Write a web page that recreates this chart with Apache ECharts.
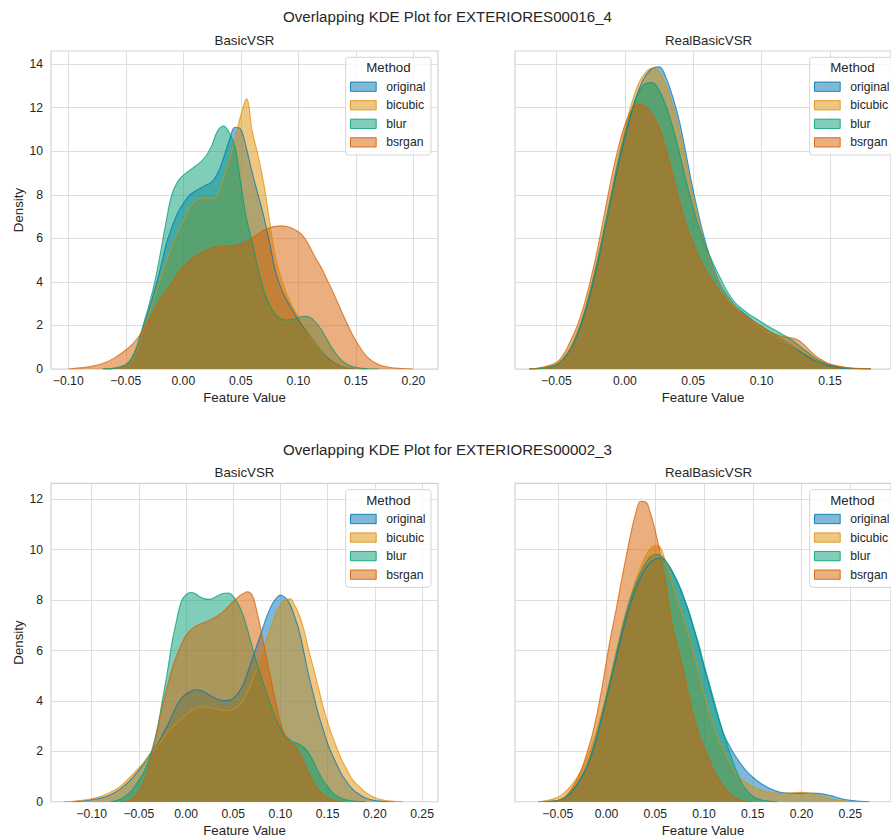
<!DOCTYPE html>
<html>
<head>
<meta charset="utf-8">
<title>Overlapping KDE Plots</title>
<script src="https://cdn.jsdelivr.net/npm/echarts@6/dist/echarts.min.js"></script>
<style>
  html, body { margin: 0; padding: 0; background: #ffffff; }
  #chart { width: 891px; height: 840px; }
</style>
</head>
<body>
<div id="chart"></div>
<script>
// ---- series names and palette ----
const methods = ['original', 'bicubic', 'blur', 'bsrgan'];
const methodRgb = [[1, 115, 178], [222, 143, 5], [2, 158, 115], [213, 94, 0]];

// ---- figure / panel titles ----
const figureTitles = ['Overlapping KDE Plot for EXTERIORES00016_4', 'Overlapping KDE Plot for EXTERIORES00002_3'];
const panelTitles = ['BasicVSR', 'RealBasicVSR', 'BasicVSR', 'RealBasicVSR'];

// ---- tick labels ----
const xTicksA = [-0.10, -0.05, 0.00, 0.05, 0.10, 0.15, 0.20];
const xTicksB = [-0.05, 0.00, 0.05, 0.10, 0.15];
const xTicksC = [-0.10, -0.05, 0.00, 0.05, 0.10, 0.15, 0.20, 0.25];
const xTicksD = [-0.05, 0.00, 0.05, 0.10, 0.15, 0.20, 0.25];
const yTicksTop = [0, 2, 4, 6, 8, 10, 12, 14];
const yTicksBottom = [0, 2, 4, 6, 8, 10, 12];

// ---- EXTERIORES00016_4 / BasicVSR : density curves ----
const xA = [-0.11, -0.10, -0.09, -0.08, -0.07, -0.06, -0.05, -0.045, -0.04, -0.035, -0.03, -0.025, -0.02, -0.015, -0.01, -0.005,
  0, 0.005, 0.01, 0.015, 0.02, 0.025, 0.03, 0.035, 0.04, 0.045, 0.05, 0.055, 0.06, 0.065, 0.07, 0.075, 0.08, 0.085, 0.09, 0.095,
  0.10, 0.105, 0.11, 0.115, 0.12, 0.125, 0.13, 0.135, 0.14, 0.145, 0.15, 0.16, 0.17, 0.18, 0.19, 0.20, 0.21];
const originalA = [null, null, null, null, 0.0, 0.03, 0.2, 0.45, 0.95, 1.85, 2.7, 3.6, 4.6, 5.7, 6.5, 7.15,
  7.6, 7.95, 8.15, 8.3, 8.45, 8.6, 9.0, 9.7, 10.5, 11.1, 11.0, 10.1, 9.0, 8.0, 7.0, 5.8, 4.5, 3.7, 3.15, 2.7,
  2.25, 1.9, 1.55, 1.18, 0.85, 0.56, 0.34, 0.2, 0.1, 0.05, 0.02, 0.0, null, null, null, null, null];
const bicubicA = [null, null, null, null, 0.0, 0.03, 0.18, 0.4, 0.9, 1.75, 2.5, 3.3, 4.1, 4.9, 5.6, 6.25,
  6.8, 7.35, 7.7, 7.82, 7.83, 7.8, 8.0, 8.75, 9.6, 10.55, 11.65, 12.4, 10.9, 9.8, 8.5, 6.8, 5.2, 4.2, 3.45, 2.85,
  2.4, 1.95, 1.55, 1.15, 0.85, 0.6, 0.38, 0.22, 0.12, 0.06, 0.03, 0.0, null, null, null, null, null];
const blurA = [null, null, null, null, 0.0, 0.03, 0.2, 0.5, 1.1, 2.0, 2.9, 3.95, 5.3, 6.75, 8.0, 8.6,
  8.9, 9.1, 9.3, 9.5, 9.8, 10.3, 10.95, 11.15, 10.85, 10.2, 8.5, 6.9, 5.8, 4.6, 3.6, 2.95, 2.5, 2.3, 2.25, 2.28,
  2.35, 2.42, 2.38, 2.15, 1.8, 1.35, 0.9, 0.55, 0.3, 0.15, 0.07, 0.01, 0.0, null, null, null, null];
const bsrganA = [null, 0.0, 0.05, 0.12, 0.25, 0.5, 0.87, 1.1, 1.4, 1.8, 2.25, 2.75, 3.2, 3.6, 3.95, 4.35,
  4.7, 4.95, 5.15, 5.3, 5.45, 5.56, 5.62, 5.64, 5.64, 5.68, 5.75, 5.85, 6.02, 6.2, 6.38, 6.48, 6.55, 6.57, 6.54, 6.45,
  6.3, 6.05, 5.6, 5.1, 4.65, 4.1, 3.55, 2.95, 2.35, 1.8, 1.3, 0.55, 0.2, 0.07, 0.02, 0.0, null];

// ---- EXTERIORES00016_4 / RealBasicVSR ----
const xB = [-0.07, -0.06, -0.05, -0.045, -0.04, -0.035, -0.03, -0.025, -0.02, -0.015, -0.01, -0.005,
  0, 0.005, 0.01, 0.015, 0.02, 0.025, 0.03, 0.035, 0.04, 0.045, 0.05, 0.055, 0.06, 0.065, 0.07, 0.075, 0.08, 0.085, 0.09, 0.095,
  0.10, 0.105, 0.11, 0.115, 0.12, 0.125, 0.13, 0.135, 0.14, 0.145, 0.15, 0.16, 0.17, 0.18];
const originalB = [0.0, 0.04, 0.2, 0.45, 0.9, 1.55, 2.4, 3.5, 4.8, 6.3, 7.8, 9.3,
  10.6, 11.8, 12.8, 13.45, 13.8, 13.88, 13.4, 12.5, 11.35, 9.8, 8.2, 6.8, 5.6, 4.6, 3.85, 3.35, 2.95, 2.65, 2.4, 2.15,
  1.95, 1.75, 1.55, 1.35, 1.15, 0.95, 0.72, 0.52, 0.35, 0.22, 0.13, 0.04, 0.01, 0.0];
const bicubicB = [0.0, 0.05, 0.22, 0.5, 0.95, 1.65, 2.55, 3.7, 5.0, 6.5, 8.0, 9.6,
  11.0, 12.2, 13.1, 13.6, 13.82, 13.65, 13.05, 12.1, 10.9, 9.4, 7.9, 6.55, 5.45, 4.5, 3.8, 3.3, 2.9, 2.6, 2.35, 2.1,
  1.9, 1.7, 1.5, 1.32, 1.15, 0.98, 0.8, 0.62, 0.45, 0.32, 0.22, 0.09, 0.03, 0.01];
const blurB = [0.0, 0.04, 0.2, 0.45, 0.9, 1.6, 2.5, 3.65, 5.0, 6.5, 8.0, 9.5,
  10.8, 11.9, 12.7, 13.1, 13.15, 12.8, 12.1, 11.1, 9.9, 8.6, 7.4, 6.35, 5.5, 4.8, 4.15, 3.55, 3.1, 2.8, 2.55, 2.35,
  2.15, 1.95, 1.78, 1.6, 1.42, 1.2, 0.94, 0.7, 0.47, 0.3, 0.19, 0.05, 0.01, 0.0];
const bsrganB = [0.0, 0.08, 0.3, 0.65, 1.25, 1.95, 2.9, 4.1, 5.5, 7.1, 8.7, 10.1,
  11.2, 11.9, 12.15, 12.05, 11.7, 11.1, 10.1, 8.9, 7.7, 6.6, 5.75, 5.05, 4.45, 3.95, 3.5, 3.1, 2.8, 2.55, 2.35, 2.15,
  1.95, 1.75, 1.6, 1.5, 1.45, 1.38, 1.18, 0.85, 0.58, 0.38, 0.22, 0.08, 0.02, 0.0];

// ---- EXTERIORES00002_3 / BasicVSR ----
const xC = [-0.13, -0.12, -0.11, -0.10, -0.09, -0.08, -0.07, -0.06, -0.05, -0.045, -0.04, -0.035, -0.03, -0.025, -0.02, -0.015, -0.01, -0.005,
  0, 0.005, 0.01, 0.015, 0.02, 0.025, 0.03, 0.035, 0.04, 0.045, 0.05, 0.055, 0.06, 0.065, 0.07, 0.075, 0.08, 0.085, 0.09, 0.095,
  0.10, 0.105, 0.11, 0.115, 0.12, 0.125, 0.13, 0.135, 0.14, 0.145, 0.15, 0.155, 0.16, 0.165, 0.17, 0.175, 0.18,
  0.19, 0.20, 0.21, 0.22, 0.23];
const originalC = [null, 0.0, 0.03, 0.08, 0.15, 0.28, 0.5, 0.82, 1.25, 1.5, 1.8, 2.05, 2.3, 2.65, 3.0, 3.4, 3.8, 4.1,
  4.28, 4.38, 4.44, 4.42, 4.33, 4.22, 4.12, 4.05, 4.01, 4.02, 4.1, 4.3, 4.6, 5.1, 5.65, 6.2, 6.75, 7.3, 7.75, 8.05,
  8.2, 8.1, 7.85, 7.35, 6.75, 5.9, 5.0, 4.25, 3.5, 2.9, 2.3, 1.85, 1.45, 1.07, 0.8, 0.55, 0.38,
  0.15, 0.05, 0.01, 0.0, null];
const bicubicC = [0.0, 0.02, 0.06, 0.12, 0.22, 0.38, 0.6, 0.95, 1.35, 1.55, 1.78, 2.0, 2.25, 2.5, 2.75, 2.95, 3.1, 3.3,
  3.45, 3.6, 3.7, 3.76, 3.77, 3.74, 3.7, 3.66, 3.62, 3.61, 3.66, 3.8, 4.0, 4.35, 4.8, 5.3, 5.85, 6.4, 6.95, 7.45,
  7.8, 8.0, 8.05, 7.8, 7.4, 6.8, 6.0, 5.3, 4.55, 3.8, 3.15, 2.6, 2.1, 1.65, 1.3, 0.95, 0.72,
  0.38, 0.16, 0.06, 0.02, 0.0];
const blurC = [null, null, null, null, null, 0.0, 0.1, 0.35, 0.85, 1.15, 1.6, 2.2, 3.0, 4.05, 5.1, 6.3, 7.2, 7.95,
  8.22, 8.3, 8.25, 8.12, 8.05, 8.03, 8.1, 8.2, 8.27, 8.28, 8.15, 7.85, 7.45, 6.85, 6.15, 5.5, 4.9, 4.35, 3.8, 3.3,
  2.9, 2.62, 2.45, 2.35, 2.28, 2.15, 1.92, 1.6, 1.2, 0.85, 0.6, 0.37, 0.22, 0.13, 0.07, 0.04, 0.02,
  0.0, null, null, null, null];
const bsrganC = [null, null, null, null, null, null, 0.0, 0.05, 0.4, 0.8, 1.3, 2.1, 2.9, 3.8, 4.55, 5.25, 5.8, 6.25,
  6.6, 6.82, 6.95, 7.05, 7.12, 7.2, 7.3, 7.42, 7.57, 7.75, 7.95, 8.12, 8.24, 8.33, 8.2, 7.55, 6.7, 5.75, 4.85, 3.95,
  3.15, 2.62, 2.38, 2.25, 1.95, 1.55, 1.12, 0.75, 0.48, 0.28, 0.15, 0.07, 0.03, 0.01, 0.0, null, null,
  null, null, null, null, null];

// ---- EXTERIORES00002_3 / RealBasicVSR ----
const xD = [-0.08, -0.07, -0.06, -0.05, -0.045, -0.04, -0.035, -0.03, -0.025, -0.02, -0.015, -0.01, -0.005,
  0, 0.005, 0.01, 0.015, 0.02, 0.025, 0.03, 0.035, 0.04, 0.045, 0.05, 0.055, 0.06, 0.065, 0.07, 0.075, 0.08, 0.085, 0.09, 0.095,
  0.10, 0.105, 0.11, 0.115, 0.12, 0.125, 0.13, 0.135, 0.14, 0.145, 0.15, 0.155, 0.16, 0.165, 0.17, 0.175, 0.18,
  0.19, 0.20, 0.21, 0.22, 0.23, 0.24, 0.25, 0.26, 0.27];
const originalD = [null, 0.0, 0.02, 0.05, 0.12, 0.24, 0.42, 0.68, 1.0, 1.4, 1.9, 2.55, 3.3,
  4.1, 4.9, 5.7, 6.5, 7.25, 7.9, 8.45, 8.9, 9.25, 9.5, 9.62, 9.66, 9.55, 9.3, 8.95, 8.55, 8.05, 7.45, 6.8, 6.1,
  5.35, 4.65, 3.95, 3.3, 2.7, 2.3, 1.95, 1.65, 1.38, 1.15, 0.97, 0.82, 0.68, 0.57, 0.48, 0.41, 0.36,
  0.33, 0.33, 0.34, 0.32, 0.24, 0.13, 0.06, 0.02, 0.0];
const bicubicD = [null, 0.0, 0.06, 0.18, 0.3, 0.48, 0.7, 0.98, 1.33, 1.75, 2.25, 2.85, 3.55,
  4.3, 5.1, 5.95, 6.8, 7.55, 8.2, 8.8, 9.3, 9.75, 10.05, 10.17, 10.1, 9.6, 9.0, 8.35, 7.75, 7.15, 6.5, 5.8, 5.05,
  4.3, 3.6, 2.95, 2.45, 2.05, 1.65, 1.28, 1.02, 0.84, 0.7, 0.6, 0.5, 0.43, 0.38, 0.35, 0.33, 0.33,
  0.35, 0.37, 0.33, 0.22, 0.12, 0.05, 0.01, 0.0, null];
const blurD = [null, null, 0.0, 0.05, 0.13, 0.25, 0.45, 0.72, 1.05, 1.45, 2.0, 2.65, 3.4,
  4.2, 5.05, 5.9, 6.7, 7.45, 8.1, 8.65, 9.1, 9.45, 9.72, 9.82, 9.78, 9.6, 9.3, 8.95, 8.5, 8.0, 7.5, 6.85, 6.2,
  5.45, 4.75, 4.05, 3.35, 2.7, 2.1, 1.55, 1.05, 0.65, 0.4, 0.22, 0.12, 0.06, 0.03, 0.01, 0.0, null,
  null, null, null, null, null, null, null, null, null];
const bsrganD = [null, null, 0.0, 0.05, 0.12, 0.3, 0.55, 0.9, 1.35, 1.95, 2.6, 3.45, 4.45,
  5.6, 6.7, 7.65, 8.7, 9.7, 10.65, 11.45, 11.92, 11.9, 11.45, 10.75, 9.85, 8.85, 7.55, 6.55, 5.8, 5.0, 4.1, 3.3, 2.65,
  2.15, 1.7, 1.25, 0.9, 0.6, 0.38, 0.2, 0.1, 0.04, 0.01, 0.0, null, null, null, null, null, null,
  null, null, null, null, null, null, null, null, null];

// ---- layout (pixels) ----
const FONT = '"Liberation Sans", Arial, Helvetica, sans-serif';
const INK = '#262626';
const GRID_LINE = '#dedede';

const panels = [
  { left: 51,  top: 51,    width: 387, height: 318,   xMin: -0.115,  xMax: 0.2214, yMax: 14.6,   xTicks: xTicksA, yTicks: yTicksTop,    x: xA, curves: [originalA, bicubicA, blurA, bsrganA] },
  { left: 515, top: 51,    width: 387, height: 318,   xMin: -0.0803, xMax: 0.1946, yMax: 14.6,   xTicks: xTicksB, yTicks: yTicksTop,    x: xB, curves: [originalB, bicubicB, blurB, bsrganB] },
  { left: 51,  top: 483.3, width: 387, height: 318.4, xMin: -0.1431, xMax: 0.2669, yMax: 12.635, xTicks: xTicksC, yTicks: yTicksBottom, x: xC, curves: [originalC, bicubicC, blurC, bsrganC] },
  { left: 515, top: 483.3, width: 387, height: 318.4, xMin: -0.0939, xMax: 0.2918, yMax: 12.635, xTicks: xTicksD, yTicks: yTicksBottom, x: xD, curves: [originalD, bicubicD, blurD, bsrganD] }
];

const rgba = (c, a) => 'rgba(' + c[0] + ',' + c[1] + ',' + c[2] + ',' + a + ')';
const fmtX = v => (v < -1e-9 ? '\u2212' : '') + Math.abs(v).toFixed(2);

const grid = [], xAxis = [], yAxis = [], series = [], legend = [], graphic = [];

panels.forEach((p, i) => {
  const isLeft = i % 2 === 0;
  grid.push({ left: p.left, top: p.top, width: p.width, height: p.height, show: true,
    borderColor: '#d2d2d2', borderWidth: 1.2, backgroundColor: 'transparent' });

  xAxis.push({
    gridIndex: i, type: 'value', min: p.xMin, max: p.xMax,
    axisLine: { show: false },
    axisTick: { show: false, customValues: p.xTicks },
    axisLabel: { customValues: p.xTicks, formatter: fmtX, color: INK, fontSize: 12.2, fontFamily: FONT, margin: 6 },
    splitLine: { show: true, lineStyle: { color: GRID_LINE, width: 1 } },
    name: 'Feature Value', nameLocation: 'middle', nameGap: 22,
    nameTextStyle: { color: INK, fontSize: 13.3, fontFamily: FONT }
  });

  yAxis.push({
    gridIndex: i, type: 'value', min: 0, max: p.yMax,
    axisLine: { show: false },
    axisTick: { show: false, customValues: p.yTicks },
    axisLabel: { show: isLeft, customValues: p.yTicks, color: INK, fontSize: 12.2, fontFamily: FONT, margin: 8 },
    splitLine: { show: true, lineStyle: { color: GRID_LINE, width: 1 } },
    name: isLeft ? 'Density' : '', nameLocation: 'middle', nameGap: 26,
    nameTextStyle: { color: INK, fontSize: 13.3, fontFamily: FONT }
  });

  methods.forEach((m, k) => {
    const pts = [];
    p.x.forEach((xv, j) => { const yv = p.curves[k][j]; if (yv !== null) pts.push([xv, yv]); });
    series.push({
      type: 'line', name: m, xAxisIndex: i, yAxisIndex: i, data: pts,
      smooth: 0.4, symbol: 'none', showSymbol: false, silent: true,
      lineStyle: { color: rgba(methodRgb[k], 0.72), width: 1.1 },
      areaStyle: { color: rgba(methodRgb[k], 0.5), opacity: 1 },
      itemStyle: { color: rgba(methodRgb[k], 1) },
      emphasis: { disabled: true }
    });
  });

  // legend frame + title, then the entries
  const bx = p.left + p.width - 92.3;
  const by = p.top + 6.3;
  graphic.push({ type: 'rect', z: 20, silent: true,
    shape: { x: bx, y: by, width: 85.3, height: 97.7, r: 3 },
    style: { fill: 'rgba(255,255,255,0.8)', stroke: '#d4d4d4', lineWidth: 1 } });
  graphic.push({ type: 'text', z: 21, silent: true, x: bx + 42.7, y: by + 10.4,
    style: { text: 'Method', fill: INK, font: '13.3px ' + FONT, align: 'center', verticalAlign: 'middle' } });
  legend.push({
    orient: 'vertical', left: bx + 4.3, top: by + 22.4, padding: 0, z: 22,
    itemWidth: 25.7, itemHeight: 9.3, itemGap: 4.55, icon: 'rect', selectedMode: false,
    textStyle: { color: INK, fontSize: 12.2, fontFamily: FONT, lineHeight: 14, padding: [0, 0, 0, 5] },
    data: methods.map((m, k) => ({ name: m, icon: 'rect',
      itemStyle: { color: rgba(methodRgb[k], 0.5), borderColor: rgba(methodRgb[k], 0.85), borderWidth: 1 } }))
  });

  graphic.push({ type: 'text', z: 21, silent: true, x: p.left + p.width / 2, y: p.top - 10.5,
    style: { text: panelTitles[i], fill: INK, font: '13.3px ' + FONT, align: 'center', verticalAlign: 'middle' } });
});

figureTitles.forEach((t, r) => {
  graphic.push({ type: 'text', z: 21, silent: true, x: 447.5, y: r === 0 ? 16.7 : 449,
    style: { text: t, fill: INK, font: '15.1px ' + FONT, align: 'center', verticalAlign: 'middle' } });
});

const chart = echarts.init(document.getElementById('chart'), null, { renderer: 'svg', width: 891, height: 840 });
chart.setOption({
  backgroundColor: '#ffffff',
  animation: false,
  grid, xAxis, yAxis, series, legend, graphic
});
</script>
</body>
</html>
